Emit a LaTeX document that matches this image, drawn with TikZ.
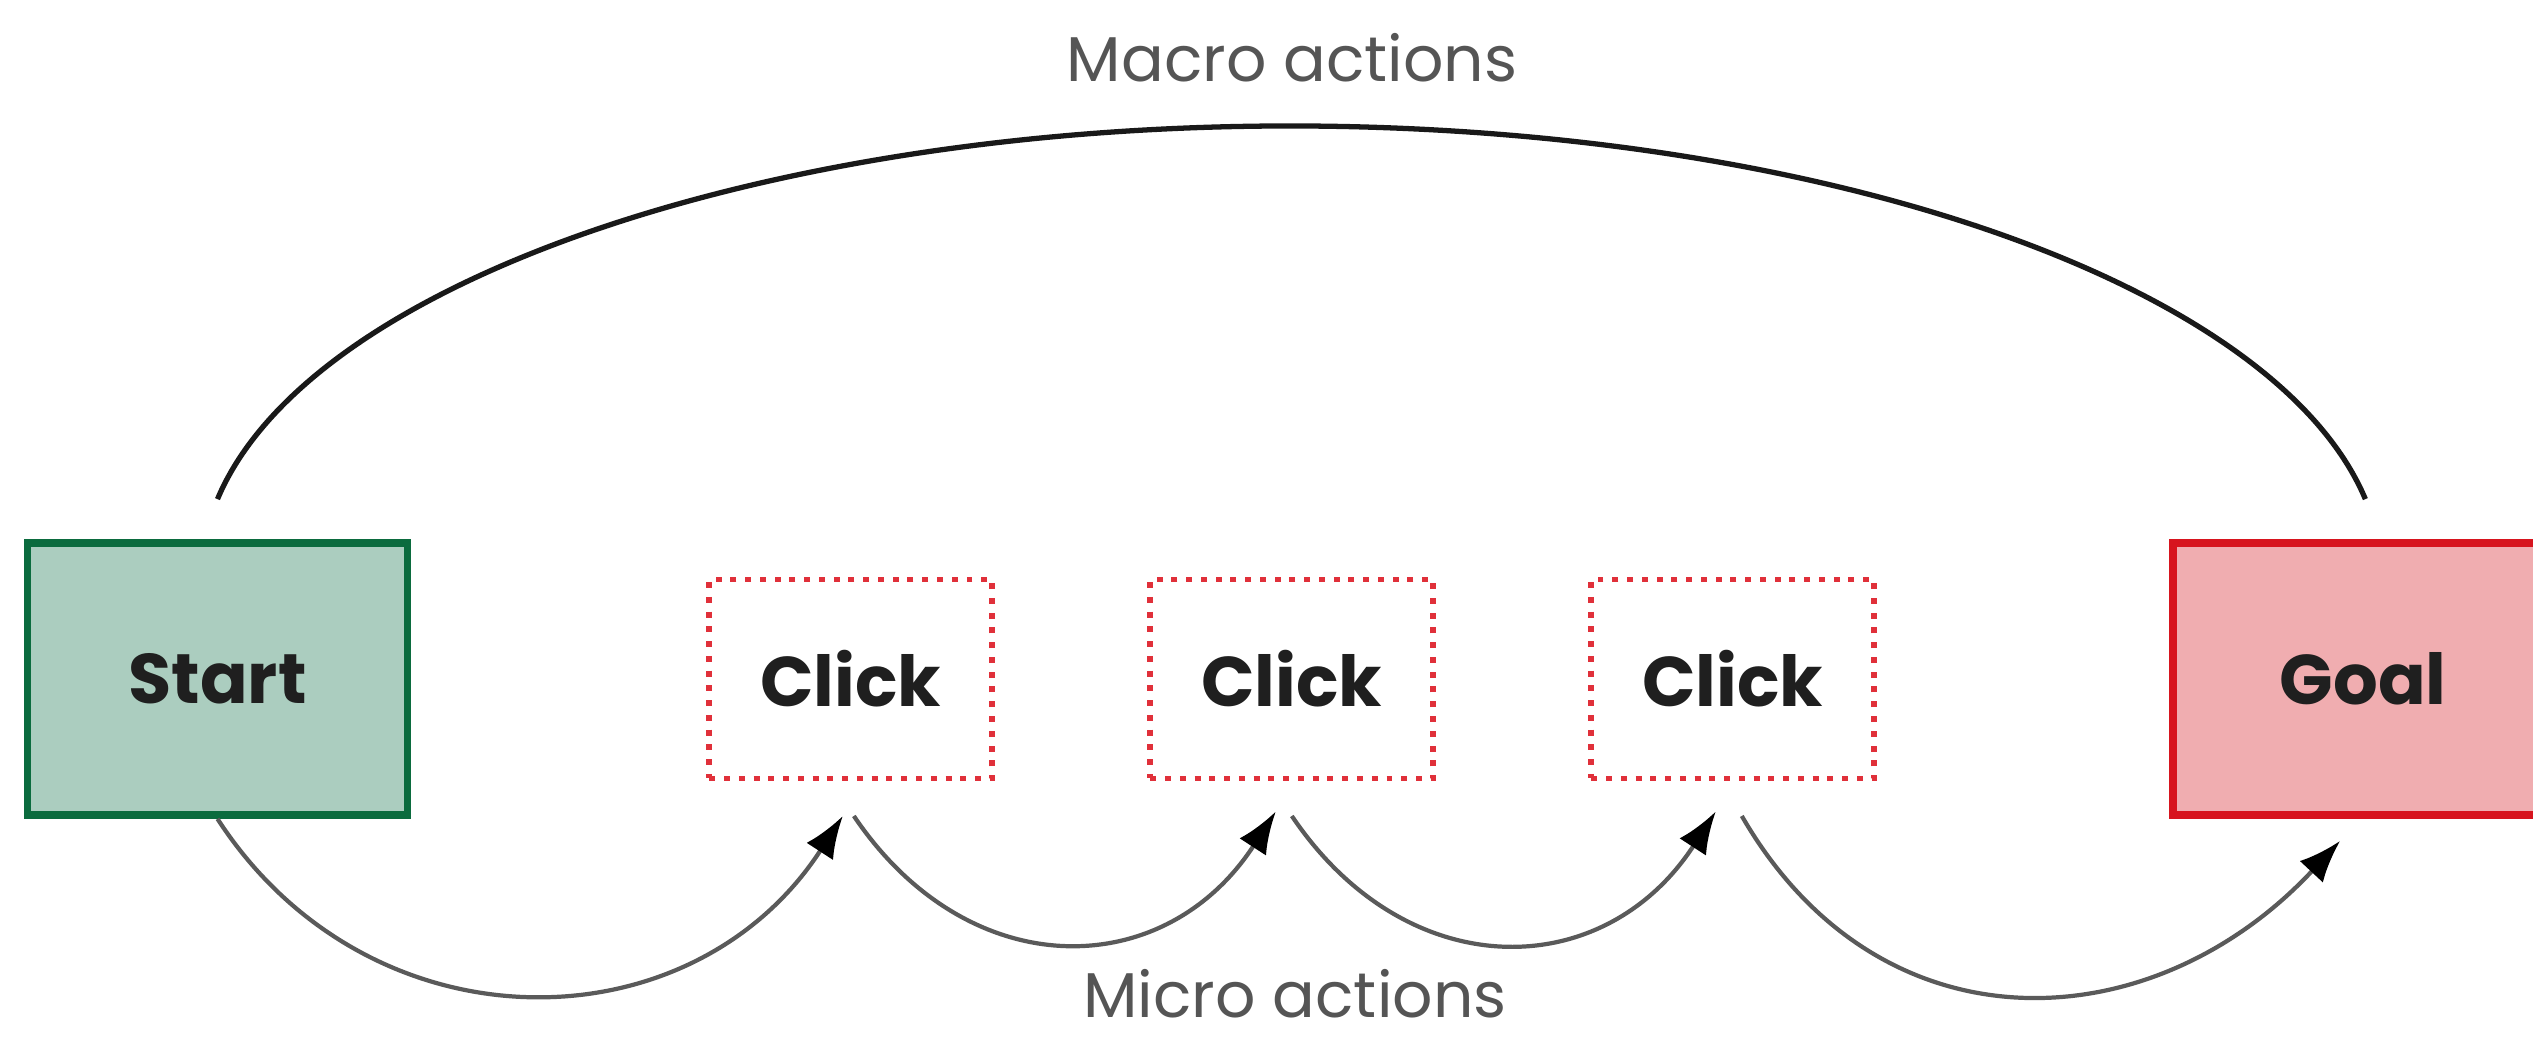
\documentclass[tikz,border=0pt]{standalone}
\usepackage{fontspec}
\setmainfont{Poppins}
\usetikzlibrary{calc,positioning,arrows.meta}
\definecolor{startgreen}{HTML}{0B6B3E}
\definecolor{startfill}{HTML}{ABCDBF}
\definecolor{goalred}{HTML}{D7141E}
\definecolor{goalfill}{HTML}{F0ADB0}
\definecolor{clickred}{HTML}{E0303A}
\definecolor{labelgray}{HTML}{555555}
\definecolor{arrowgray}{HTML}{5A5A5A}

\begin{document}
\begin{tikzpicture}[
    endbox/.style={draw, line width=2.2pt, minimum width=3.8cm, minimum height=2.72cm,
      inner sep=0pt, font=\fontsize{20}{24}\selectfont\bfseries, text=black!88},
    clickbox/.style={draw=clickred, line width=1.7pt, dash pattern=on 1.7pt off 2.5pt,
      minimum width=2.83cm, minimum height=1.99cm, inner sep=0pt,
      font=\fontsize{20}{24}\selectfont\bfseries, text=black!88},
    actlabel/.style={font=\fontsize{18}{22}\selectfont, text=labelgray, anchor=base, inner sep=0pt},
    micro/.style={draw=arrowgray, line width=1.2pt, -{Latex[length=12pt,width=9pt,black]}},
  ]
  \useasboundingbox (0,0) rectangle (25.33,10.42);

  % the chain of boxes
  \node[endbox, draw=startgreen, fill=startfill] (start) at (2.175,3.63) {Start};
  \node[clickbox, right=2.95cm of start] (click1) {Click};
  \node[clickbox, right=1.52cm of click1] (click2) {Click};
  \node[clickbox, right=1.52cm of click2] (click3) {Click};
  \node[endbox, draw=goalred, fill=goalfill, right=2.92cm of click3] (goal) {Goal};

  % micro steps under the boxes
  \coordinate (in1) at ($(click1.south)+(-0.08,-0.345)$);
  \coordinate (out1) at ($(click1.south)+(0.03,-0.345)$);
  \coordinate (in2) at ($(click2.south)+(-0.16,-0.30)$);
  \coordinate (out2) at ($(click2.south)+(0,-0.345)$);
  \coordinate (in3) at ($(click3.south)+(-0.17,-0.30)$);
  \coordinate (out3) at ($(click3.south)+(0.09,-0.345)$);
  \coordinate (in4) at ($(goal.south)+(-0.23,-0.22)$);
  \draw[micro] (start.south) to[out=-57, in=-123, looseness=1.14] (in1);
  \draw[micro] (out1) to[out=-56, in=-123, looseness=1.24] (in2);
  \draw[micro] (out2) to[out=-56, in=-123, looseness=1.24] (in3);
  \draw[micro] (out3) to[out=-60, in=-133, looseness=1.18] (in4);

  % macro step over the top
  \coordinate (macroL) at ($(start.north)+(0,0.4)$);
  \draw[line width=1.5pt, black!90] (macroL)
    arc[start angle=170.16, end angle=9.84, x radius=10.9cm, y radius=4.5cm];

  \node[actlabel] (macrotxt) at (12.92,9.60) {Macro actions};
  \node[actlabel] (microtxt) at (12.95,0.24) {Micro actions};
\end{tikzpicture}
\end{document}
